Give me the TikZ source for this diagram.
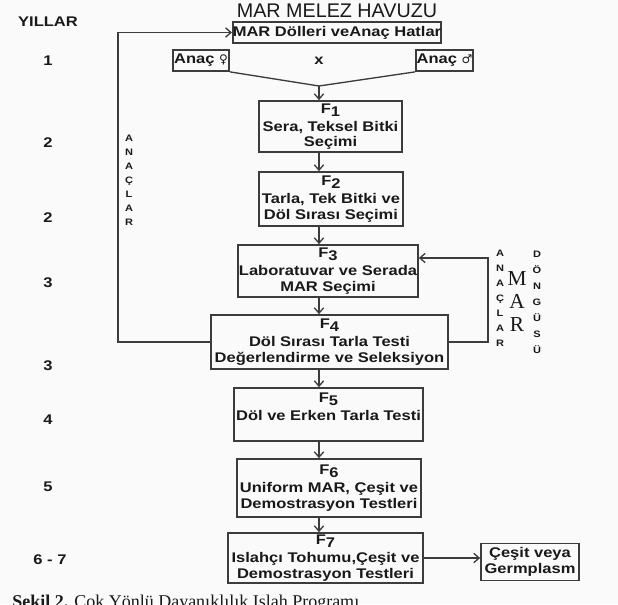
\documentclass[tikz,border=0pt]{standalone}
\usepackage{fontspec}
\setmainfont{Liberation Sans}
\newfontfamily\bxf[FakeStretch=1.18]{Liberation Sans}
\newfontfamily\symf{DejaVu Sans}
\newfontfamily\serf{Liberation Serif}
\usetikzlibrary{arrows.meta}
\definecolor{ln}{RGB}{60,60,60}
\definecolor{tx}{RGB}{25,25,25}
\definecolor{bg}{RGB}{250,250,250}
\newcommand\Fsub[1]{F\raisebox{-0.4ex}{#1}}
\begin{document}
\begin{tikzpicture}[x=0.75pt,y=-0.75pt,
  box/.style={draw=ln,line width=1.3pt,inner sep=0pt,align=center,text=tx,
    font=\bxf\bfseries\fontsize{10.5pt}{11.5pt}\selectfont},
  wh/.style 2 args={minimum width=#1*0.75pt,minimum height=#2*0.75pt},
  conn/.style={draw=ln,line width=1pt},
  arr/.style={conn,-{Straight Barb[length=4pt,width=7pt]}},
  yr/.style={text=tx,inner sep=0pt,font=\bxf\bfseries\fontsize{10.5pt}{12pt}\selectfont},
  vt/.style={text=tx,align=center,inner sep=0pt,font=\bxf\bfseries\fontsize{7pt}{#1}\selectfont},
]
\fill[bg] (0,0) rectangle (618,604);
\useasboundingbox (0,0) rectangle (618,604);

% title and top box
\node[anchor=base,inner sep=0pt,text=tx,font=\fontsize{14.8pt}{16pt}\selectfont] (title) at (337,17) {MAR MELEZ HAVUZU};
\node[box,wh={202}{21}] (top) at (337,32.5) {MAR Dölleri veAnaç Hatlar};

% parents
\node[box,wh={56}{21}] (af) at (201,60.5) {Anaç {\symf\fontsize{9pt}{10pt}\selectfont ♀}};
\node[box,wh={57}{21}] (am) at (444.5,60.5) {Anaç {\symf\fontsize{9pt}{10pt}\selectfont ♂}};
\node[yr] (cross) at (319,61) {x};

% generations
\node[box,wh={143}{51}] (f1) at (330.5,126.5) {\Fsub{1}\\[2pt]Sera, Teksel Bitki\\Seçimi};
\node[box,wh={144}{54}] (f2) at (331,199) {\Fsub{2}\\[2pt]Tarla, Tek Bitki ve\\Döl Sırası Seçimi};
\node[box,wh={180}{52}] (f3) at (328,271) {\Fsub{3}\\[2pt]Laboratuvar ve Serada\\MAR Seçimi};
\node[box,wh={237}{54}] (f4) at (329.5,342) {\Fsub{4}\\[2pt]Döl Sırası Tarla Testi\\Değerlendirme ve Seleksiyon};
\node[box,wh={189}{53}] (f5) at (328.5,414.5) {\Fsub{5}\\[2pt]Döl ve Erken Tarla Testi\\ \mbox{}};
\node[box,wh={184}{58}] (f6) at (329,488) {\Fsub{6}\\[2pt]Uniform MAR, Çeşit ve\\Demostrasyon Testleri};
\node[box,wh={195}{50}] (f7) at (325.5,558) {\Fsub{7}\\[2pt]Islahçı Tohumu,Çeşit ve\\Demostrasyon Testleri};
\node[box,wh={98}{37}] (g) at (530,562) {Çeşit veya\\Germplasm};

% years
\node[yr] (yl) at (48,22) {YILLAR};
\node[yr] (y1) at (48,61) {1};
\node[yr] (y2) at (48,143) {2};
\node[yr] (y3) at (48,218) {2};
\node[yr] (y4) at (48,283) {3};
\node[yr] (y5) at (48,366) {3};
\node[yr] (y6) at (48,420) {4};
\node[yr] (y7) at (48,487) {5};
\node[yr] (y8) at (50,560) {6 - 7};

% vertical labels
\node[vt=10.5pt] (ancl) at (129,180) {A\\N\\A\\Ç\\L\\A\\R};
\node[vt=11.25pt] (ancr) at (500,298) {A\\N\\A\\Ç\\L\\A\\R};
\node[vt=12pt] (dong) at (537,302) {D\\Ö\\N\\G\\Ü\\S\\Ü};
\node[text=tx,align=center,inner sep=0pt,font=\serf\fontsize{16pt}{17.25pt}\selectfont] (mar) at (517,302) {M\\A\\R};

% connectors
\coordinate (vx) at (319,0);
\coordinate (meet) at (319,86);
\draw[conn] (af.south east) -- (meet) -- (am.south west);
\draw[arr] (meet) -- (f1.north -| meet);
\draw[arr] (f1.south -| vx) -- (f2.north -| vx);
\draw[arr] (f2.south -| vx) -- (f3.north -| vx);
\draw[arr] (f3.south -| vx) -- (f4.north -| vx);
\draw[arr] (f4.south -| vx) -- (f5.north -| vx);
\draw[arr] (f5.south -| vx) -- (f6.north -| vx);
\draw[arr] (f6.south -| vx) -- (f7.north -| vx);
\draw[arr] (f7.east) -- (f7.east -| g.west);

\coordinate (lx) at (118,0);
\draw[arr] (f4.west) -- (f4.west -| lx) -- (top.west -| lx) -- (top.west);
\coordinate (rx) at (488,258);
\draw[arr] (f4.east) -- (f4.east -| rx) -- (rx) -- (rx -| f3.east);

% caption (cut by the picture's lower edge, as in the reference)
\node[anchor=base west,inner sep=0pt,text=tx,font=\serf\fontsize{13.5pt}{15pt}\selectfont] (cap) at (12,607) {\textbf{Şekil 2.} Çok Yönlü Dayanıklılık Islah Programı};
\end{tikzpicture}
\end{document}
